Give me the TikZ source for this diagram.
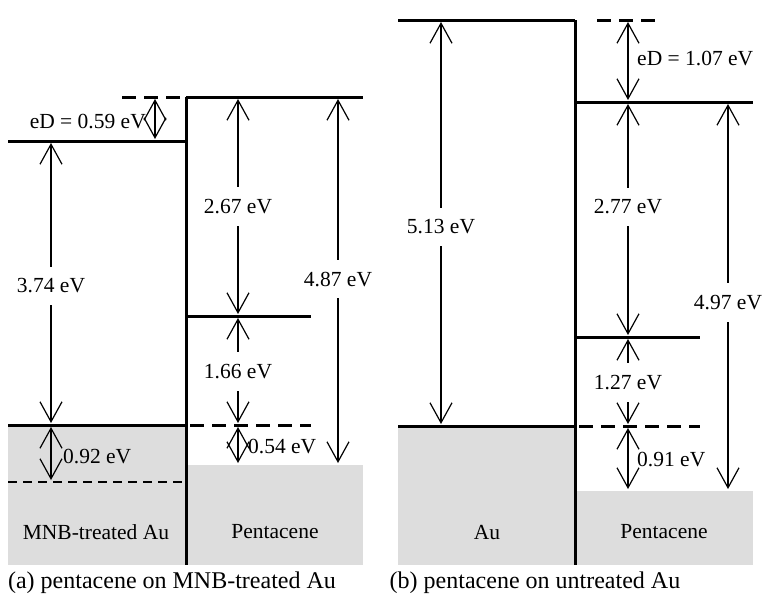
\documentclass[tikz,border=0pt]{standalone}
\usepackage{fontspec}
\setmainfont{Liberation Serif}
\usepackage{xcolor}
\usetikzlibrary{arrows.meta,positioning}
\definecolor{bandgray}{RGB}{221,221,221}

\begin{document}
\begin{tikzpicture}[x=1pt, y=-1pt,
    level/.style={line width=3pt},
    dlevel/.style={line width=3pt, dash pattern=on 14pt off 8pt},
    thindash/.style={line width=2pt, dash pattern=on 9pt off 6pt},
    arrow/.style={line width=1.2pt, >={Straight Barb[length=20pt,width=22pt,line width=1.2pt]}, <->},
    lbl/.style={font=\fontsize{21.5}{25}\selectfont, inner sep=1pt},
    cut/.style={lbl, fill=white, inner xsep=2pt, inner ysep=12pt},
    caption/.style={font=\fontsize{24}{28}\selectfont}]

\useasboundingbox (0,0) rectangle (763,600);

% (a) pentacene on MNB-treated Au
\fill[bandgray] (8,425) rectangle (186,565);
\fill[bandgray] (188,465) rectangle (363,565);
\draw[level] (186,97) -- (186,565);
\draw[level] (8,141) -- (186,141);
\draw[level] (186,97) -- (363,97);
\draw[dlevel] (122,97) -- (182,97);
\draw[level] (186,316) -- (311,316);
\draw[level] (8,425) -- (186,425);
\draw[dlevel] (190,425) -- (311,425);
\draw[thindash] (8,482) -- (182,482);

\coordinate (aD1) at (155,99);   \coordinate (aD2) at (155,139);
\coordinate (aM1) at (51,143);   \coordinate (aM2) at (51,423);
\coordinate (aL1) at (238,99);   \coordinate (aL2) at (238,314);
\coordinate (aG1) at (238,318);  \coordinate (aG2) at (238,423);
\coordinate (aH1) at (238,427);  \coordinate (aH2) at (238,463);
\coordinate (aI1) at (338,99);   \coordinate (aI2) at (338,463);
\coordinate (aF1) at (51,427);   \coordinate (aF2) at (51,480);

\draw[arrow] (aD1) -- (aD2);
\draw[arrow] (aM1) -- node[cut, pos=0.51] (l374) {3.74 eV} (aM2);
\draw[arrow] (aL1) -- node[cut, pos=0.5] (l267) {2.67 eV} (aL2);
\draw[arrow] (aG1) -- node[cut, pos=0.51] (l166) {1.66 eV} (aG2);
\draw[arrow] (aH1) -- (aH2);
\draw[arrow] (aI1) -- node[cut, pos=0.495] (l487) {4.87 eV} (aI2);
\draw[arrow] (aF1) -- (aF2);

\node[lbl, anchor=east] (leDa) at (147,122) {eD = 0.59 eV};
\node[lbl, anchor=west] (l054) at (247,447) {0.54 eV};
\node[lbl, anchor=west] (l092) at (62,457) {0.92 eV};
\node[lbl] (mnb) at (96,532) {MNB-treated Au};
\node[lbl] (pena) at (275,532) {Pentacene};
\node[caption] (capa) at (172,583) {(a) pentacene on MNB-treated Au};

% (b) pentacene on untreated Au
\fill[bandgray] (398,426) rectangle (575,565);
\fill[bandgray] (577,491) rectangle (753,565);
\draw[level] (575,20) -- (575,565);
\draw[level] (398,20) -- (575,20);
\draw[dlevel] (597,20) -- (655,20);
\draw[level] (575,102) -- (753,102);
\draw[level] (575,337) -- (700,337);
\draw[level] (398,426) -- (575,426);
\draw[dlevel] (579,426) -- (700,426);

\coordinate (bM1) at (441,22);   \coordinate (bM2) at (441,424);
\coordinate (bD1) at (628,22);   \coordinate (bD2) at (628,100);
\coordinate (bL1) at (628,104);  \coordinate (bL2) at (628,335);
\coordinate (bG1) at (628,339);  \coordinate (bG2) at (628,424);
\coordinate (bH1) at (628,428);  \coordinate (bH2) at (628,489);
\coordinate (bI1) at (728,104);  \coordinate (bI2) at (728,489);

\draw[arrow] (bM1) -- node[cut, pos=0.51] (l513) {5.13 eV} (bM2);
\draw[arrow] (bD1) -- (bD2);
\draw[arrow] (bL1) -- node[cut, pos=0.446] (l277) {2.77 eV} (bL2);
\draw[arrow] (bG1) -- node[cut, pos=0.51] (l127) {1.27 eV} (bG2);
\draw[arrow] (bH1) -- (bH2);
\draw[arrow] (bI1) -- node[cut, pos=0.515] (l497) {4.97 eV} (bI2);

\node[lbl, anchor=west] (leDb) at (636,59) {eD = 1.07 eV};
\node[lbl, anchor=west] (l091) at (636,460) {0.91 eV};
\node[lbl] (au) at (487,532) {Au};
\node[lbl] (penb) at (664,532) {Pentacene};
\node[caption] (capb) at (535,583) {(b) pentacene on untreated Au};

\end{tikzpicture}
\end{document}
